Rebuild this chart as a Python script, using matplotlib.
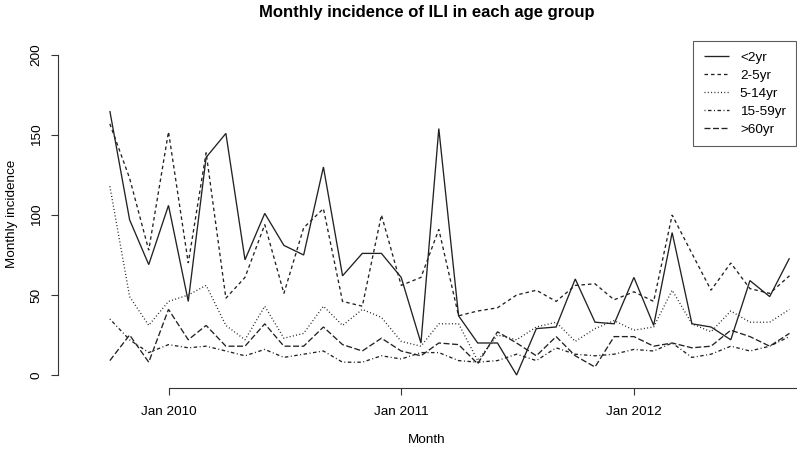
import matplotlib
matplotlib.use("Agg")
import matplotlib.pyplot as plt
import matplotlib.dates as mdates
import numpy as np
import datetime as dt

# ---- data ----
months = [dt.date(2009 + (9 + i) // 12, (9 + i) % 12 + 1, 1) for i in range(36)]  # Oct 2009 .. Sep 2012
lt2 = [165, 97, 69, 106, 46, 136, 151, 72, 101, 81, 75, 130, 62, 76, 76, 61, 20, 154, 37, 20,
       20, 0, 29, 30, 60, 33, 32, 61, 31, 89, 32, 30, 22, 59, 49, 73]
a2_5 = [157, 123, 78, 152, 70, 139, 48, 61, 94, 51, 92, 104, 46, 43, 100, 56, 61, 91, 37, 40,
        42, 50, 53, 46, 56, 57, 47, 52, 46, 100, 76, 53, 70, 54, 51, 62]
a5_14 = [118, 49, 31, 46, 50, 56, 31, 22, 43, 23, 26, 43, 31, 41, 36, 21, 18, 32, 32, 9,
         25, 22, 30, 33, 21, 29, 34, 28, 30, 53, 32, 27, 40, 33, 33, 41]
a15_59 = [35, 22, 14, 19, 17, 18, 15, 12, 16, 11, 13, 15, 8, 8, 12, 10, 14, 14, 9, 8,
          9, 13, 9, 17, 13, 12, 13, 16, 15, 20, 11, 13, 18, 15, 18, 24]
gt60 = [9, 25, 8, 41, 22, 31, 18, 18, 32, 18, 18, 30, 19, 15, 23, 15, 12, 20, 19, 7,
        27, 20, 12, 24, 12, 5, 24, 24, 18, 20, 17, 18, 28, 24, 18, 26]
labels = ["<2yr", "2-5yr", "5-14yr", "15-59yr", ">60yr"]
tick_dates = [dt.date(2010, 1, 1), dt.date(2011, 1, 1), dt.date(2012, 1, 1)]
tick_labels = ["Jan 2010", "Jan 2011", "Jan 2012"]
yticks = [0, 50, 100, 150, 200]

plt.rcParams['font.family'] = ['Liberation Sans', 'DejaVu Sans']
plt.rcParams['lines.scale_dashes'] = False

W, H = 797, 453
fig = plt.figure(figsize=(W / 100, H / 100), dpi=100)
L, R, T, B = 58, 796, 41, 388
ax = fig.add_axes([L / W, 1 - B / H, (R - L) / W, (B - T) / H])

px = 0.72  # points per pixel
styles = [
    (0, ()),
    (0, (3.5 * px, 3 * px)),
    (0, (1 * px, 2.3 * px)),
    (0, (1 * px, 2.5 * px, 3.5 * px, 2.5 * px)),
    (0, (6 * px, 2.5 * px)),
]
series = [lt2, a2_5, a5_14, a15_59, gt60]
for vals, lab, ls in zip(series, labels, styles):
    ax.plot(months, vals, color='#222222', lw=0.95, linestyle=ls, label=lab,
            solid_joinstyle='miter', dash_joinstyle='miter')

# axis limits, pixel-matched
ppd = 232.7 / 365.0
x0 = mdates.date2num(dt.date(2010, 1, 1))
ax.set_xlim(x0 - (168.5 - L) / ppd, x0 + (R - 168.5) / ppd)
ax.set_ylim(-(B - 375) / 1.6, (375 - T) / 1.6)

for s in ['top', 'right']:
    ax.spines[s].set_visible(False)
ax.spines['left'].set_bounds(0, 200)
ax.spines['bottom'].set_bounds(mdates.date2num(tick_dates[0]), ax.get_xlim()[1])
for s in ['left', 'bottom']:
    ax.spines[s].set_linewidth(0.8)
    ax.spines[s].set_color('#333333')

ax.set_yticks(yticks)
ax.set_yticklabels([str(v) for v in yticks], rotation=90, va='center', fontsize=9.7)
ax.set_xticks([mdates.date2num(d) for d in tick_dates])
ax.set_xticklabels(tick_labels, fontsize=9.7)
ax.tick_params(direction='out', length=5, width=0.8, colors='#333333', labelcolor='black', pad=8)
ax.tick_params(axis='y', pad=6)

fig.text((L + R) / 2 / W, 1 - 12 / H, "Monthly incidence of ILI in each age group",
         ha='center', va='center', fontsize=12, fontweight='bold')
fig.text((L + R) / 2 / W, 1 - 440 / H, "Month", ha='center', va='center', fontsize=9.7)
fig.text(12 / W, 1 - 214 / H, "Monthly incidence", ha='center', va='center', rotation=90, fontsize=9.7)

leg = ax.legend(loc='upper right', bbox_to_anchor=(1.0, 1.0), frameon=True, fancybox=False,
                edgecolor='#333333', fontsize=9.7, handlelength=1.9, handletextpad=0.8,
                borderpad=0.75, labelspacing=0.42, borderaxespad=0)
leg.get_frame().set_linewidth(0.8)

fig.savefig("out.png", dpi=100)
